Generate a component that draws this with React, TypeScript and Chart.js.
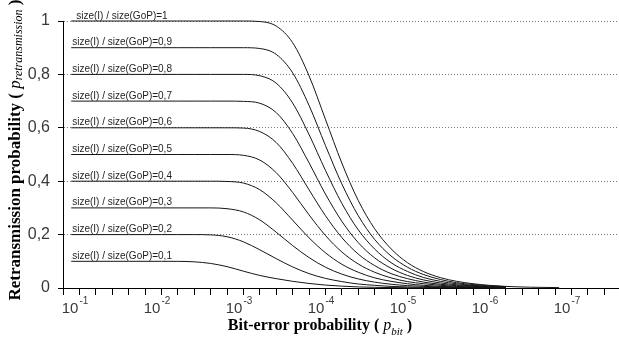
import React, { useEffect, useRef } from 'react';
import { Chart, registerables } from 'chart.js';

Chart.register(...registerables);

// x values: decade magnitude d where p_bit = 10^-d
const DECADES = [0.9, 1.6, 2.0, 2.2, 2.4, 2.6, 2.8, 3.0, 3.2, 3.4, 3.6, 3.8, 4.0, 4.2, 4.4, 4.6, 4.8, 5.0, 5.2, 5.4, 5.6, 5.8, 6.0, 6.2, 6.5, 6.85];

const RATIOS = [1, 0.9, 0.8, 0.7, 0.6, 0.5, 0.4, 0.3, 0.2, 0.1];

const R10 = [1, 1, 1, 1, 1, 1, 1, 1.0, 0.998, 0.981, 0.919, 0.795, 0.632, 0.468, 0.328, 0.222, 0.147, 0.095, 0.061, 0.039, 0.025, 0.016, 0.010, 0.006, 0.003, 0.0014];
const R09 = [0.9, 0.9, 0.9, 0.9, 0.9, 0.9, 0.9, 0.9, 0.897, 0.875, 0.806, 0.684, 0.534, 0.39, 0.271, 0.182, 0.12, 0.078, 0.05, 0.032, 0.02, 0.013, 0.008, 0.005, null, null];
const R08 = [0.8, 0.8, 0.8, 0.8, 0.8, 0.8, 0.8, 0.8, 0.795, 0.767, 0.693, 0.575, 0.441, 0.317, 0.218, 0.146, 0.095, 0.062, 0.039, 0.025, 0.016, 0.01, 0.006, 0.004, null, null];
const R07 = [0.7, 0.7, 0.7, 0.7, 0.7, 0.7, 0.7, 0.699, 0.692, 0.657, 0.579, 0.469, 0.352, 0.25, 0.17, 0.113, 0.074, 0.047, 0.03, 0.019, 0.012, 0.008, 0.005, 0.003, null, null];
const R06 = [0.6, 0.6, 0.6, 0.6, 0.6, 0.6, 0.6, 0.599, 0.586, 0.545, 0.467, 0.368, 0.271, 0.189, 0.127, 0.084, 0.054, 0.035, 0.022, 0.014, 0.009, 0.006, 0.004, 0.002, null, null];
const R05 = [0.5, 0.5, 0.5, 0.5, 0.5, 0.5, 0.5, 0.497, 0.479, 0.432, 0.358, 0.274, 0.197, 0.135, 0.09, 0.059, 0.038, 0.024, 0.016, 0.01, 0.006, 0.004, 0.0025, 0.0016, null, null];
const R04 = [0.4, 0.4, 0.4, 0.4, 0.4, 0.4, 0.399, 0.393, 0.368, 0.319, 0.254, 0.188, 0.132, 0.089, 0.059, 0.038, 0.025, 0.016, 0.01, 0.006, 0.004, 0.0025, 0.0016, 0.001, null, null];
const R03 = [0.3, 0.3, 0.3, 0.3, 0.3, 0.3, 0.297, 0.285, 0.255, 0.209, 0.159, 0.114, 0.078, 0.052, 0.034, 0.022, 0.014, 0.009, 0.006, 0.004, 0.002, 0.0014, 0.0009, 0.0006, null, null];
const R02 = [0.2, 0.2, 0.2, 0.2, 0.2, 0.199, 0.192, 0.173, 0.143, 0.11, 0.079, 0.054, 0.036, 0.024, 0.015, 0.01, 0.006, 0.004, 0.0025, 0.0016, 0.001, 0.0006, 0.0004, 0.0003, null, null];
const R01 = [0.1, 0.1, 0.1, 0.0998, 0.098, 0.092, 0.08, 0.063, 0.047, 0.035, 0.025, 0.017, 0.011, 0.007, 0.004, 0.0025, 0.0016, 0.001, 0.0006, 0.0004, 0.0003, 0.0002, 0.0001, 0.0001, null, null];

const SERIES = [R10, R09, R08, R07, R06, R05, R04, R03, R02, R01];

const X_LABEL_DECADES = [1, 2, 3, 4, 5, 6, 7];
const X_EXPONENTS = ['-1', '-2', '-3', '-4', '-5', '-6', '-7'];

const X_MIN = 0.8;
const X_MAX = 7.58;
const X_TICKS = Array.from({ length: 34 }, (_, i) => +(0.8 + 0.2 * i).toFixed(1));

const SANS = '"Liberation Sans", Arial, sans-serif';
const SERIF = '"Liberation Serif", "Times New Roman", serif';

const curveLabel = (r: number) => `size(I) / size(GoP)=${String(r).replace('.', ',')}`;

const overlay = {
  id: 'overlay',
  afterDraw(chart: any) {
    const ctx = chart.ctx as CanvasRenderingContext2D;
    const xs = chart.scales.x;
    const ys = chart.scales.y;
    ctx.save();
    // curve labels
    ctx.fillStyle = '#1e1e1e';
    ctx.font = `10px ${SANS}`;
    ctx.textAlign = 'left';
    ctx.textBaseline = 'alphabetic';
    RATIOS.forEach((r, i) => {
      const x = xs.getPixelForValue(DECADES[0]) + (i === 0 ? 5 : 1);
      const y = ys.getPixelForValue(r) - 2.5;
      ctx.fillText(curveLabel(r), x, y);
    });
    // x tick labels with superscripts
    ctx.fillStyle = '#3a3a3a';
    X_LABEL_DECADES.forEach((d, i) => {
      const px = xs.getPixelForValue(d);
      ctx.font = `15px ${SANS}`;
      ctx.textAlign = 'right';
      ctx.fillText('10', px - 1, 313);
      ctx.font = `10px ${SANS}`;
      ctx.textAlign = 'left';
      ctx.fillText(X_EXPONENTS[i], px, 304);
    });
    // x title
    ctx.fillStyle = '#000';
    const xParts: [string, string, number][] = [
      ['Bit-error probability ( ', `bold 16px ${SERIF}`, 0],
      ['p', `italic 16px ${SERIF}`, 0],
      ['bit', `italic 11px ${SERIF}`, 5],
      [' )', `bold 16px ${SERIF}`, 0],
    ];
    let total = 0;
    xParts.forEach(([t, f]) => { ctx.font = f; total += ctx.measureText(t).width; });
    let x = 320 - total / 2;
    ctx.textAlign = 'left';
    xParts.forEach(([t, f, dy]) => {
      ctx.font = f;
      ctx.fillText(t, x, 330 + dy);
      x += ctx.measureText(t).width;
    });
    // y title (rotated)
    const yParts: [string, string, number][] = [
      ['Retransmission probability ( ', `bold 17px ${SERIF}`, 0],
      ['p', `italic 17px ${SERIF}`, 0],
      ['retransmission', `italic 12px ${SERIF}`, 2],
      [' )', `bold 17px ${SERIF}`, 0],
    ];
    total = 0;
    yParts.forEach(([t, f]) => { ctx.font = f; total += ctx.measureText(t).width; });
    ctx.translate(20, 150);
    ctx.rotate(-Math.PI / 2);
    let yx = -total / 2;
    yParts.forEach(([t, f, dy]) => {
      ctx.font = f;
      ctx.fillText(t, yx, dy);
      yx += ctx.measureText(t).width;
    });
    ctx.restore();
  },
};

export default function App() {
  const ref = useRef<HTMLCanvasElement | null>(null);
  useEffect(() => {
    document.body.style.margin = '0';
    const canvas = ref.current;
    if (!canvas) return;
    const datasets = SERIES.map((vals, i) => ({
      label: curveLabel(RATIOS[i]),
      data: DECADES.map((d, j) => (vals[j] === null ? null : { x: d, y: vals[j] })).filter((p) => p !== null),
      borderColor: '#151515',
      borderWidth: 1,
      pointRadius: 0,
      fill: false,
      cubicInterpolationMode: 'monotone' as const,
      clip: 3,
    }));
    const chart = new Chart(canvas, {
      type: 'line',
      data: { datasets },
      options: {
        animation: false,
        responsive: false,
        devicePixelRatio: 1,
        layout: { padding: { top: 21, right: 0, left: 0, bottom: 0 } },
        plugins: { legend: { display: false }, tooltip: { enabled: false }, title: { display: false } },
        scales: {
          x: {
            type: 'linear',
            min: X_MIN,
            max: X_MAX,
            afterBuildTicks: (s: any) => { s.ticks = X_TICKS.map((v) => ({ value: v })); },
            afterFit: (s: any) => { s.height = 57; },
            ticks: { display: false },
            grid: { drawOnChartArea: false, drawTicks: true, tickLength: 7, tickColor: '#000', tickWidth: 1 },
            border: { display: true, color: '#000', width: 1 },
          },
          y: {
            type: 'linear',
            min: 0,
            max: 1,
            afterFit: (s: any) => { s.width = 63; },
            ticks: {
              stepSize: 0.2,
              padding: 8,
              color: '#3a3a3a',
              font: { family: SANS, size: 16 },
              callback: (v: any) => String(Math.round(Number(v) * 10) / 10).replace('.', ','),
            },
            grid: {
              color: (c: any) => (c.tick && Math.abs(c.tick.value) < 1e-9 ? 'rgba(0,0,0,0)' : '#7a7a7a'),
              drawTicks: true,
              tickLength: 5,
              tickColor: '#000',
              tickBorderDash: [],
              lineWidth: 1,
            },
            border: { display: true, color: '#000', width: 1, dash: [1, 2] },
          },
        },
      },
      plugins: [overlay],
    } as any);
    return () => chart.destroy();
  }, []);
  return (
    <div style={{ width: 619, height: 345 }}>
      <canvas ref={ref} width={619} height={345} />
    </div>
  );
}
